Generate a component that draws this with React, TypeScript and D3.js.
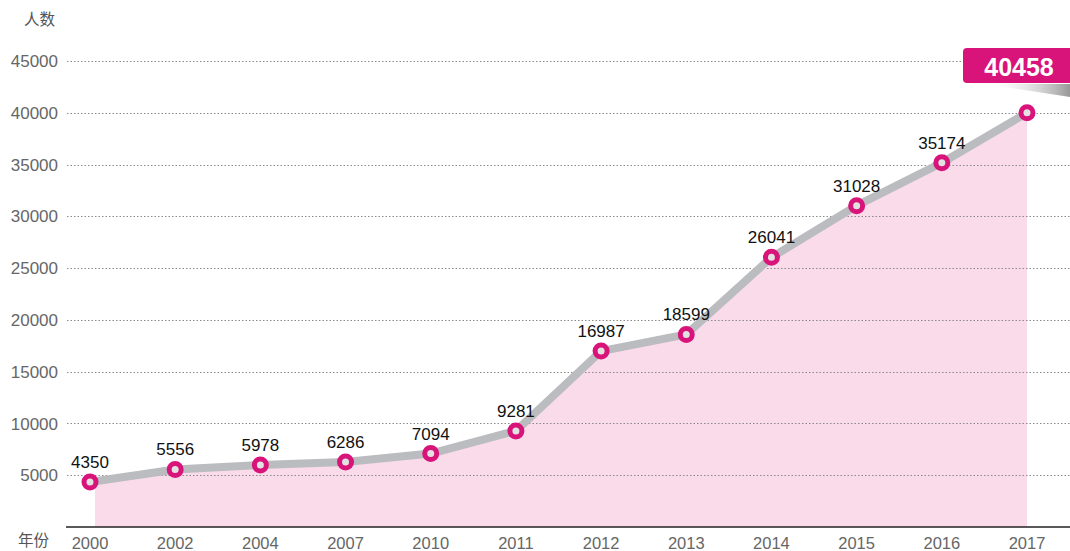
import React from "react";
import * as d3 from "d3";

const categories: string[] = ["2000", "2002", "2004", "2007", "2010", "2011", "2012", "2013", "2014", "2015", "2016", "2017"];
const plotValues: number[] = [4350, 5556, 5978, 6286, 7094, 9281, 16987, 18599, 26041, 31028, 35174, 40000];
const pointLabels: string[] = ["4350", "5556", "5978", "6286", "7094", "9281", "16987", "18599", "26041", "31028", "35174", ""];
const calloutLabel = "40458";
const yTicks: number[] = [5000, 10000, 15000, 20000, 25000, 30000, 35000, 40000, 45000];
const yAxisTitle = "人数";
const xAxisTitle = "年份";

const W = 1070;
const H = 551;
const FONT = "'Liberation Sans', Arial, Helvetica, sans-serif";
const CJK = "'Noto Sans CJK SC', 'Liberation Sans', sans-serif";

export default function App() {
  const x = d3.scalePoint<string>().domain(categories).range([90, 1027]);
  const y = d3.scaleLinear().domain([0, 45000]).range([527, 61]);

  const pts = categories.map((c, i) => [x(c) as number, y(plotValues[i])] as [number, number]);
  const line = d3.line<[number, number]>().x(d => d[0]).y(d => d[1])(pts) || "";
  const area = d3.area<[number, number]>().x(d => d[0]).y0(y(0)).y1(d => d[1])(pts) || "";
  const last = pts[pts.length - 1];

  return (
    <svg width={W} height={H} style={{ position: "absolute", left: 0, top: 0, display: "block" }}>
      <defs>
        <clipPath id="areaClip">
          <rect x={(x(categories[0]) as number) + 5} y={0} width={W} height={H} />
        </clipPath>
        <linearGradient id="shadowGrad" x1="0" y1="0" x2="1" y2="0">
          <stop offset="0" stopColor="#ffffff" stopOpacity={0} />
          <stop offset="1" stopColor="#8c8c8c" stopOpacity={0.9} />
        </linearGradient>
      </defs>
      <rect x={0} y={0} width={W} height={H} fill="#fff" />

      {/* area */}
      <path d={area} fill="#f9dbe9" clipPath="url(#areaClip)" />

      {/* gridlines */}
      {yTicks.map(t => (
        <line key={t} x1={67} x2={W} y1={Math.round(y(t)) + 0.5} y2={Math.round(y(t)) + 0.5}
          stroke="#8a8a8a" strokeWidth={1} strokeDasharray="1.5,2" />
      ))}

      {/* y tick labels */}
      {yTicks.map(t => (
        <text key={"l" + t} x={58} y={y(t)} dy="0.36em" textAnchor="end" fontFamily={FONT}
          fontSize={17} fill="#666">{t}</text>
      ))}
      <text x={24} y={25} fontFamily={CJK} fontSize={15.5} fill="#555">{yAxisTitle}</text>

      {/* x axis */}
      <line x1={66} x2={W} y1={527} y2={527} stroke="#222" strokeWidth={1.5} />
      {categories.map(c => (
        <text key={c} x={x(c)} y={549} textAnchor="middle" fontFamily={FONT} fontSize={16.5} fill="#666">{c}</text>
      ))}
      <text x={18} y={546} fontFamily={CJK} fontSize={15.5} fill="#555">{xAxisTitle}</text>

      {/* line */}
      <path d={line} fill="none" stroke="#bbbcbf" strokeWidth={8} strokeLinejoin="round" />

      {/* markers */}
      {pts.map((p, i) => (
        <circle key={i} cx={p[0]} cy={p[1]} r={6} fill="#e2e2e2" stroke="#d8147a" strokeWidth={5} />
      ))}

      {/* value labels */}
      {pts.map((p, i) => (
        pointLabels[i] ? (
          <text key={"v" + i} x={p[0]} y={p[1] - 14} textAnchor="middle" fontFamily={FONT}
            fontSize={17} fill="#111">{pointLabels[i]}</text>
        ) : null
      ))}

      {/* callout */}
      <polygon points={`${last[0] - 42},84 ${W},84 ${W},97`} fill="url(#shadowGrad)" />
      <rect x={last[0] - 64} y={48} width={W - (last[0] - 64) + 6} height={35} rx={4} fill="#d8147a" />
      <text x={last[0] - 8} y={76} textAnchor="middle" fontFamily={FONT} fontSize={25}
        fontWeight="bold" fill="#fff">{calloutLabel}</text>
    </svg>
  );
}
